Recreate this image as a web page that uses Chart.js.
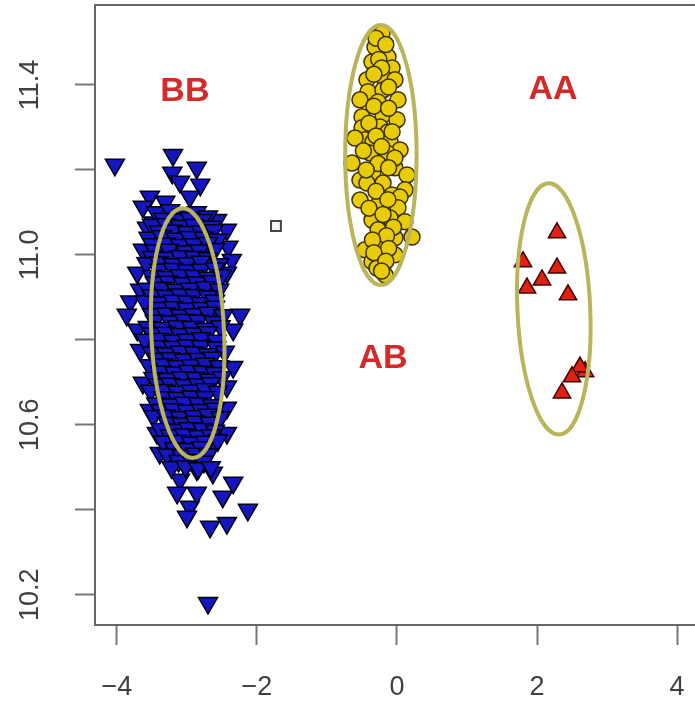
<!DOCTYPE html>
<html lang="en">
<head>
  <meta charset="UTF-8">
  <title>Genotype clusters</title>
  <script src="https://cdn.jsdelivr.net/npm/chart.js"></script>
  <style>
    html, body {
      margin: 0;
      padding: 0;
      background: #fff;
    }
    .chart-container {
      width: 695px;
      height: 703px;
    }
  </style>
</head>
<body>
  <div class="chart-container">
    <canvas id="clusterChart"></canvas>
  </div>

<script>
  // axis ticks
  const xTicks = [-4, -2, 0, 2, 4];
  const yTicks = [10.2, 10.4, 10.6, 10.8, 11.0, 11.2, 11.4];
  const yLabelled = [10.2, 10.6, 11.0, 11.4];

  // BB cluster (downward triangles)
  const bbPoints = [
    [-4.03, 11.212], [-3.2, 11.235], [-2.86, 11.205], [-3.21, 11.193], [-3.1, 11.172],
    [-2.81, 11.165], [-3.53, 11.137], [-3.31, 11.125], [-2.96, 11.137], [-3.63, 11.113],
    [-2.57, 11.082], [-2.43, 11.059], [-3.57, 11.064], [-3.48, 11.076], [-2.41, 11.019],
    [-3.63, 11.012], [-2.36, 10.988], [-3.71, 10.958], [-2.43, 10.958], [-3.67, 10.918],
    [-3.81, 10.89], [-3.86, 10.859], [-2.24, 10.859], [-3.71, 10.824], [-2.34, 10.824],
    [-3.67, 10.776], [-2.34, 10.736], [-3.63, 10.699], [-2.43, 10.69], [-3.53, 10.635],
    [-2.43, 10.64], [-3.43, 10.581], [-2.43, 10.581], [-3.39, 10.534], [-2.67, 10.541],
    [-3.1, 10.471], [-2.86, 10.495], [-2.63, 10.487], [-2.34, 10.464], [-2.96, 10.407],
    [-3.0, 10.384], [-2.49, 10.431], [-2.67, 10.36], [-2.43, 10.369], [-2.13, 10.4],
    [-2.7, 10.181], [-3.14, 10.44], [-2.86, 10.44],
    [-3.44, 11.1], [-3.24, 11.105], [-3.06, 11.095], [-2.86, 11.1], [-2.7, 11.09],
    [-3.34, 11.085], [-3.14, 11.083], [-2.96, 11.087], [-2.78, 11.082],
    [-3.5, 11.07], [-3.3, 11.072], [-3.1, 11.068], [-2.9, 11.07], [-2.66, 11.066],
    [-3.4, 11.055], [-3.2, 11.057], [-3.0, 11.053], [-2.8, 11.055], [-2.62, 11.058],
    [-3.55, 11.04], [-3.36, 11.044], [-3.16, 11.038], [-2.96, 11.042], [-2.76, 11.04], [-2.56, 11.036],
    [-3.5, 11.025], [-3.3, 11.027], [-3.1, 11.023], [-2.9, 11.025], [-2.7, 11.028],
    [-3.46, 11.01], [-3.26, 11.012], [-3.02, 11.008], [-2.82, 11.01], [-2.6, 11.014],
    [-3.5, 10.995], [-3.3, 10.993], [-3.1, 10.997], [-2.9, 10.995], [-2.7, 10.992],
    [-3.58, 10.98], [-3.4, 10.982], [-3.2, 10.978], [-3.0, 10.98], [-2.8, 10.984], [-2.54, 10.978],
    [-3.4, 10.965], [-3.2, 10.967], [-3.0, 10.963], [-2.8, 10.965], [-2.6, 10.968],
    [-3.5, 10.95], [-3.3, 10.948], [-3.1, 10.952], [-2.9, 10.95], [-2.7, 10.946], [-2.5, 10.952],
    [-3.46, 10.935], [-3.26, 10.937], [-3.06, 10.933], [-2.86, 10.935], [-2.64, 10.938],
    [-3.56, 10.92], [-3.36, 10.922], [-3.16, 10.918], [-2.96, 10.92], [-2.74, 10.924], [-2.54, 10.918],
    [-3.5, 10.905], [-3.3, 10.903], [-3.1, 10.907], [-2.9, 10.905], [-2.7, 10.902],
    [-3.6, 10.89], [-3.4, 10.888], [-3.2, 10.892], [-3.0, 10.89], [-2.8, 10.886], [-2.6, 10.892],
    [-3.4, 10.875], [-3.2, 10.877], [-3.0, 10.873], [-2.8, 10.875], [-2.6, 10.878],
    [-3.5, 10.86], [-3.3, 10.862], [-3.1, 10.858], [-2.9, 10.86], [-2.7, 10.864], [-2.48, 10.858],
    [-3.46, 10.845], [-3.24, 10.843], [-3.04, 10.847], [-2.84, 10.845], [-2.62, 10.842],
    [-3.56, 10.83], [-3.36, 10.828], [-3.14, 10.832], [-2.94, 10.83], [-2.74, 10.826], [-2.52, 10.832],
    [-3.5, 10.815], [-3.3, 10.817], [-3.1, 10.813], [-2.9, 10.815], [-2.7, 10.818],
    [-3.6, 10.8], [-3.4, 10.802], [-3.2, 10.798], [-3.0, 10.8], [-2.8, 10.804], [-2.58, 10.798],
    [-3.4, 10.785], [-3.2, 10.783], [-3.0, 10.787], [-2.8, 10.785], [-2.58, 10.782],
    [-3.5, 10.77], [-3.3, 10.768], [-3.1, 10.772], [-2.9, 10.77], [-2.7, 10.766], [-2.46, 10.772],
    [-3.44, 10.755], [-3.24, 10.757], [-3.04, 10.753], [-2.84, 10.755], [-2.64, 10.758],
    [-3.54, 10.74], [-3.34, 10.742], [-3.14, 10.738], [-2.94, 10.74], [-2.74, 10.744], [-2.54, 10.738],
    [-3.38, 10.725], [-3.18, 10.723], [-2.98, 10.727], [-2.78, 10.725], [-2.6, 10.722],
    [-3.48, 10.71], [-3.28, 10.708], [-3.08, 10.712], [-2.88, 10.71], [-2.68, 10.706], [-2.5, 10.712],
    [-3.42, 10.695], [-3.24, 10.697], [-3.04, 10.693], [-2.84, 10.695], [-2.66, 10.698],
    [-3.52, 10.68], [-3.34, 10.682], [-3.14, 10.678], [-2.94, 10.68], [-2.74, 10.684], [-2.56, 10.678],
    [-3.34, 10.665], [-3.14, 10.663], [-2.94, 10.667], [-2.74, 10.665],
    [-3.44, 10.65], [-3.24, 10.648], [-3.04, 10.652], [-2.84, 10.65], [-2.64, 10.646],
    [-3.38, 10.635], [-3.2, 10.637], [-3.0, 10.633], [-2.8, 10.635], [-2.6, 10.638],
    [-3.48, 10.62], [-3.3, 10.622], [-3.1, 10.618], [-2.9, 10.62], [-2.7, 10.624], [-2.52, 10.618],
    [-3.28, 10.605], [-3.08, 10.603], [-2.88, 10.607], [-2.68, 10.605],
    [-3.38, 10.59], [-3.18, 10.588], [-2.98, 10.592], [-2.78, 10.59], [-2.6, 10.586],
    [-3.24, 10.575], [-3.04, 10.577], [-2.84, 10.573], [-2.66, 10.575],
    [-3.34, 10.56], [-3.14, 10.562], [-2.94, 10.558], [-2.74, 10.56], [-2.56, 10.564],
    [-3.18, 10.545], [-2.98, 10.543], [-2.8, 10.547],
    [-3.28, 10.53], [-3.08, 10.528], [-2.88, 10.532], [-2.7, 10.53],
    [-3.12, 10.515], [-2.94, 10.517], [-2.76, 10.513],
    [-3.22, 10.5], [-3.02, 10.502], [-2.84, 10.498], [-2.66, 10.5]
  ];

  // AB cluster (circles)
  const abPoints = [
    [-0.214, 11.522], [-0.314, 11.489], [-0.129, 11.466], [-0.357, 11.454], [-0.071, 11.44],
    [-0.429, 11.412], [-0.2, 11.419], [-0.029, 11.412], [-0.414, 11.384], [-0.2, 11.388],
    [-0.271, 11.36], [0.014, 11.365], [-0.529, 11.365], [-0.5, 11.325], [-0.2, 11.329],
    [0.0, 11.318], [-0.5, 11.299], [-0.243, 11.301], [-0.129, 11.289], [-0.457, 11.271],
    [-0.343, 11.266], [-0.1, 11.266], [-0.6, 11.275], [0.043, 11.247], [-0.386, 11.24],
    [-0.143, 11.24], [-0.643, 11.216], [-0.343, 11.195], [-0.029, 11.205], [0.143, 11.188],
    [-0.529, 11.176], [-0.2, 11.169], [-0.429, 11.169], [0.114, 11.153], [-0.071, 11.141],
    [0.043, 11.136], [-0.529, 11.129], [-0.271, 11.118], [0.014, 11.111], [-0.1, 11.087],
    [-0.357, 11.082], [0.114, 11.078], [-0.271, 11.059], [-0.029, 11.04], [0.214, 11.042],
    [-0.243, 11.019], [-0.457, 11.012], [-0.029, 11.0], [-0.243, 10.988], [-0.357, 10.984],
    [-0.286, 10.969], [-0.171, 10.953],
    [-0.3, 11.51], [-0.16, 11.495], [-0.26, 11.46], [-0.22, 11.44], [-0.33, 11.425],
    [-0.12, 11.395], [-0.33, 11.35], [-0.12, 11.345], [-0.4, 11.31], [-0.07, 11.29],
    [-0.3, 11.28], [-0.22, 11.255], [-0.48, 11.245], [-0.03, 11.228], [-0.27, 11.215],
    [-0.12, 11.205], [-0.44, 11.2], [-0.3, 11.15], [-0.13, 11.13], [-0.4, 11.11],
    [-0.2, 11.095], [-0.05, 11.065], [-0.15, 11.045], [-0.35, 11.035], [-0.12, 11.015],
    [-0.33, 11.005], [-0.16, 10.985], [-0.22, 10.962]
  ];

  // AA cluster (upward triangles)
  const aaPoints = [
    [2.286, 11.052], [1.8, 10.984], [2.286, 10.969], [2.071, 10.941], [1.857, 10.922],
    [2.443, 10.906], [2.686, 10.725], [2.614, 10.736], [2.5, 10.713], [2.357, 10.675]
  ];

  // uncalled sample
  const naPoints = [[-1.729, 11.068]];

  // cluster ellipses: centre, semi-axes, tilt (deg)
  const ellipseCx = [-2.99, -0.23, 2.24];
  const ellipseCy = [10.816, 11.235, 10.873];
  const ellipseRx = [0.52, 0.51, 0.52];
  const ellipseRy = [0.294, 0.306, 0.296];
  const ellipseTilt = [-2.5, 0, -2.5];

  // genotype labels
  const genoNames = ['BB', 'AA', 'AB'];
  const genoX = [-3.03, 2.23, -0.2];
  const genoY = [11.384, 11.39, 10.756];

  const toXY = arr => arr.map(p => ({ x: p[0], y: p[1] }));

  const overlay = {
    id: 'overlay',
    afterDatasetsDraw(chart) {
      const { ctx, chartArea, scales: { x, y } } = chart;
      ctx.save();
      // ellipses
      ctx.strokeStyle = '#bab45a';
      ctx.lineWidth = 4;
      ellipseCx.forEach((cx, i) => {
        const px = x.getPixelForValue(cx);
        const py = y.getPixelForValue(ellipseCy[i]);
        const rx = Math.abs(x.getPixelForValue(cx + ellipseRx[i]) - px);
        const ry = Math.abs(y.getPixelForValue(ellipseCy[i] + ellipseRy[i]) - py);
        ctx.beginPath();
        ctx.ellipse(px, py, rx, ry, ellipseTilt[i] * Math.PI / 180, 0, Math.PI * 2);
        ctx.stroke();
      });
      // labels
      ctx.fillStyle = '#d42a2a';
      ctx.font = 'bold 34px "Liberation Sans", Arial, sans-serif';
      ctx.textAlign = 'center';
      ctx.textBaseline = 'middle';
      genoNames.forEach((t, i) => {
        ctx.fillText(t, x.getPixelForValue(genoX[i]), y.getPixelForValue(genoY[i]));
      });
      // top edge of the box
      ctx.strokeStyle = '#666';
      ctx.lineWidth = 2;
      ctx.beginPath();
      ctx.moveTo(chartArea.left, chartArea.top);
      ctx.lineTo(chartArea.right, chartArea.top);
      ctx.stroke();
      ctx.restore();
    }
  };

  const tickFont = { family: '"Liberation Sans", Arial, sans-serif', size: 27 };

  new Chart(document.getElementById('clusterChart'), {
    type: 'scatter',
    data: {
      datasets: [
        {
          label: 'BB',
          data: toXY(bbPoints),
          pointStyle: 'triangle',
          rotation: 180,
          pointRadius: 11,
          backgroundColor: '#1616c0',
          borderColor: '#000010',
          borderWidth: 1.5
        },
        {
          label: 'AB',
          data: toXY(abPoints),
          pointStyle: 'circle',
          pointRadius: 8,
          backgroundColor: '#e8cc08',
          borderColor: '#3d3000',
          borderWidth: 1.5
        },
        {
          label: 'AA',
          data: toXY(aaPoints),
          pointStyle: 'triangle',
          pointRadius: 10,
          backgroundColor: '#e02010',
          borderColor: '#400000',
          borderWidth: 1.5
        },
        {
          label: 'NA',
          data: toXY(naPoints),
          pointStyle: 'rect',
          pointRadius: 7,
          backgroundColor: '#f4f4f4',
          borderColor: '#444',
          borderWidth: 2
        }
      ]
    },
    options: {
      responsive: true,
      maintainAspectRatio: false,
      animation: false,
      layout: { autoPadding: false, padding: { top: 5, right: 0, left: 0, bottom: 0 } },
      plugins: {
        legend: { display: false },
        tooltip: { enabled: false }
      },
      scales: {
        x: {
          type: 'linear',
          min: -4.314,
          max: 4.257,
          afterBuildTicks: axis => { axis.ticks = xTicks.map(v => ({ value: v })); },
          afterFit: axis => { axis.height = 78; axis.paddingLeft = 0; axis.paddingRight = 0; },
          border: { display: true, color: '#666', width: 2 },
          grid: { drawOnChartArea: false, drawTicks: true, tickLength: 20, tickColor: '#777', tickWidth: 2 },
          ticks: {
            autoSkip: false,
            maxRotation: 0,
            padding: 26,
            color: '#404040',
            font: tickFont,
            callback: v => String(v).replace('-', '\u2212')
          }
        },
        y: {
          type: 'linear',
          min: 10.129,
          max: 11.588,
          afterBuildTicks: axis => { axis.ticks = yTicks.map(v => ({ value: v })); },
          afterFit: axis => { axis.width = 95; axis.paddingTop = 0; axis.paddingBottom = 0; },
          border: { display: true, color: '#666', width: 2 },
          grid: { drawOnChartArea: false, drawTicks: true, tickLength: 20, tickColor: '#777', tickWidth: 2 },
          ticks: {
            autoSkip: false,
            minRotation: 90,
            maxRotation: 90,
            crossAlign: 'center',
            padding: 18,
            color: '#404040',
            font: tickFont,
            callback: v => yLabelled.some(t => Math.abs(t - v) < 1e-6) ? v.toFixed(1) : ''
          }
        }
      }
    },
    plugins: [overlay]
  });
</script>
</body>
</html>
